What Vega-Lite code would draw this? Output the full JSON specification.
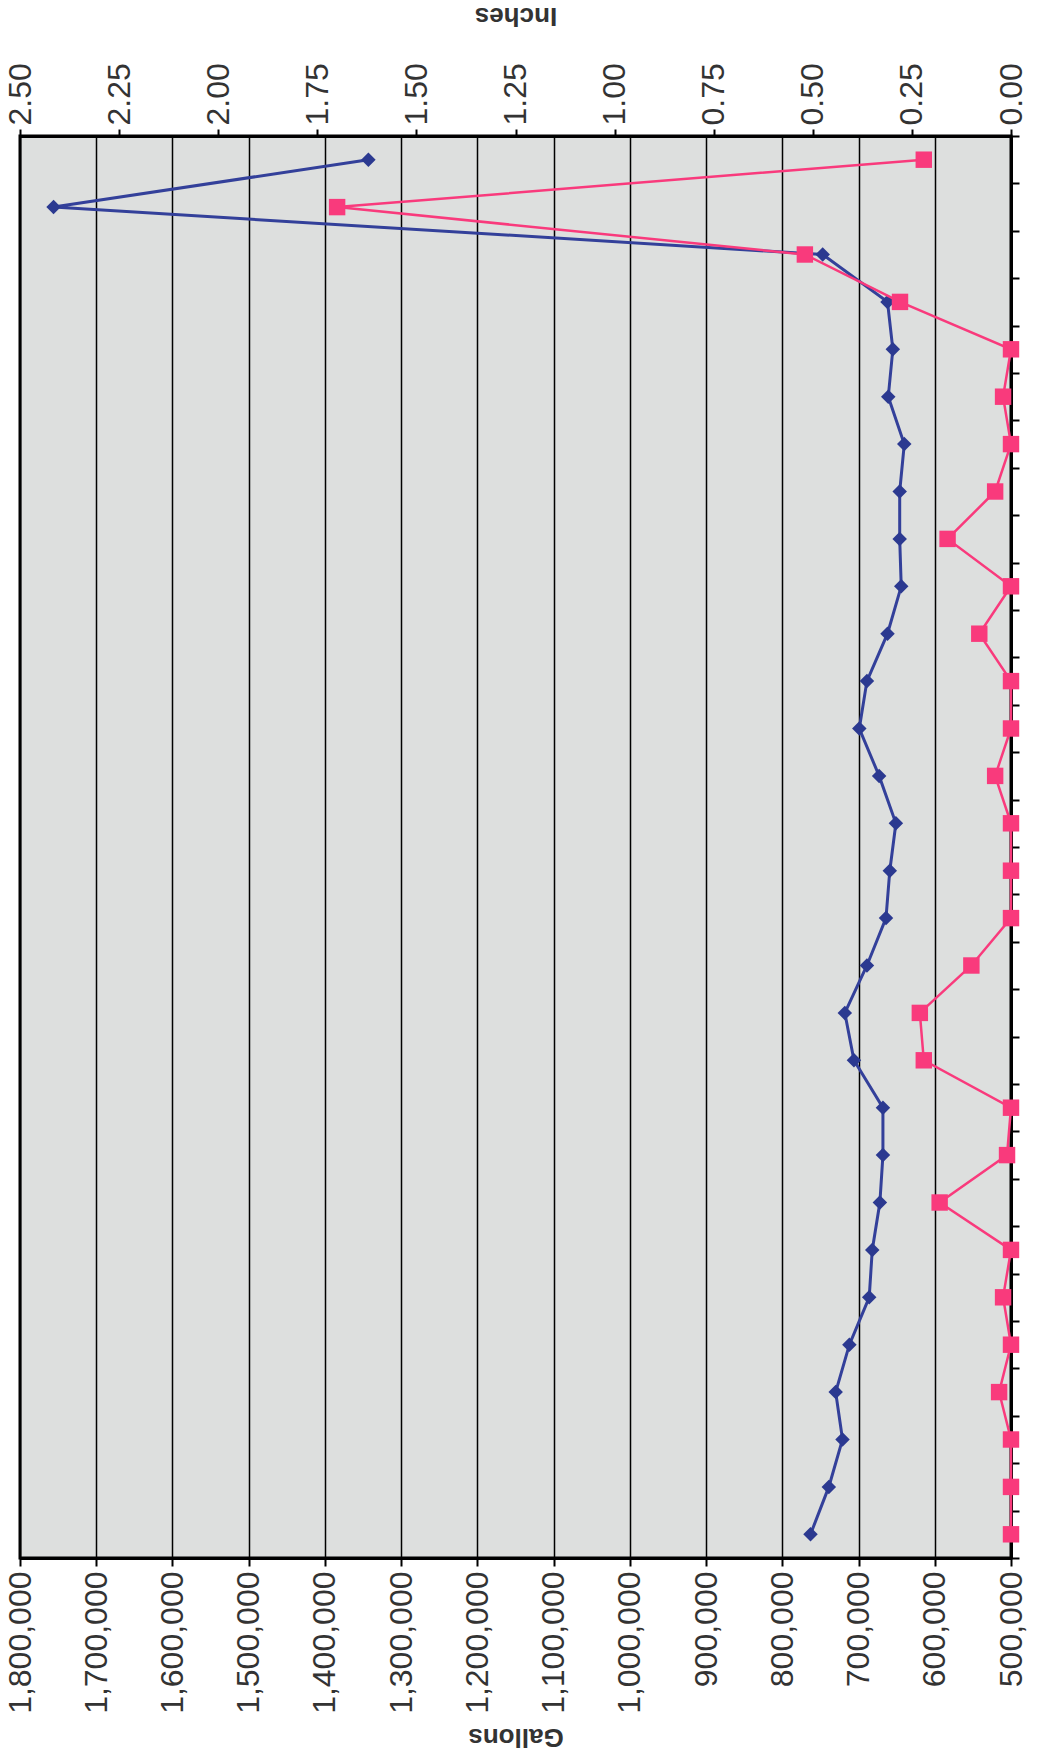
{
  "$schema": "https://vega.github.io/schema/vega-lite/v6.json",
  "width": 991,
  "height": 1422,
  "autosize": "none",
  "padding": {"left": 20, "top": 136, "right": 26, "bottom": 196},
  "background": "white",
  "config": {
    "font": "Liberation Sans",
    "view": {"fill": "#dddfde", "stroke": "black", "strokeWidth": 3}
  },
  "data": {
    "values": [
      {"n": 1, "gallons": 763000, "inches": 0},
      {"n": 2, "gallons": 739000, "inches": 0},
      {"n": 3, "gallons": 721000, "inches": 0},
      {"n": 4, "gallons": 730000, "inches": 0.03},
      {"n": 5, "gallons": 712000, "inches": 0},
      {"n": 6, "gallons": 686000, "inches": 0.02},
      {"n": 7, "gallons": 682000, "inches": 0},
      {"n": 8, "gallons": 672000, "inches": 0.18},
      {"n": 9, "gallons": 668000, "inches": 0.01},
      {"n": 10, "gallons": 668000, "inches": 0},
      {"n": 11, "gallons": 706000, "inches": 0.22},
      {"n": 12, "gallons": 718000, "inches": 0.23},
      {"n": 13, "gallons": 689000, "inches": 0.10},
      {"n": 14, "gallons": 664000, "inches": 0},
      {"n": 15, "gallons": 659000, "inches": 0},
      {"n": 16, "gallons": 651000, "inches": 0},
      {"n": 17, "gallons": 673000, "inches": 0.04},
      {"n": 18, "gallons": 699000, "inches": 0},
      {"n": 19, "gallons": 689000, "inches": 0},
      {"n": 20, "gallons": 662000, "inches": 0.08},
      {"n": 21, "gallons": 644000, "inches": 0},
      {"n": 22, "gallons": 646000, "inches": 0.16},
      {"n": 23, "gallons": 646000, "inches": 0.04},
      {"n": 24, "gallons": 640000, "inches": 0},
      {"n": 25, "gallons": 661000, "inches": 0.02},
      {"n": 26, "gallons": 655000, "inches": 0},
      {"n": 27, "gallons": 662000, "inches": 0.28},
      {"n": 28, "gallons": 747000, "inches": 0.52},
      {"n": 29, "gallons": 1756000, "inches": 1.70},
      {"n": 30, "gallons": 1343000, "inches": 0.22}
    ]
  },
  "encoding": {
    "y": {
      "field": "n",
      "type": "quantitative",
      "scale": {"domain": [0.5, 30.5], "nice": false, "zero": false},
      "axis": {
        "orient": "right",
        "values": [0.5, 1.5, 2.5, 3.5, 4.5, 5.5, 6.5, 7.5, 8.5, 9.5, 10.5, 11.5, 12.5, 13.5, 14.5, 15.5, 16.5, 17.5, 18.5, 19.5, 20.5, 21.5, 22.5, 23.5, 24.5, 25.5, 26.5, 27.5, 28.5, 29.5, 30.5],
        "labels": false,
        "title": null,
        "grid": false,
        "tickSize": 8,
        "tickColor": "black",
        "tickWidth": 2,
        "domainColor": "black",
        "domainWidth": 3
      }
    },
    "order": {"field": "n", "type": "quantitative"}
  },
  "layer": [
    {
      "mark": {
        "type": "line",
        "color": "#33409a",
        "strokeWidth": 3,
        "point": {"shape": "diamond", "size": 210, "filled": true, "color": "#2b3990", "opacity": 1}
      },
      "encoding": {
        "x": {
          "field": "gallons",
          "type": "quantitative",
          "scale": {"domain": [500000, 1800000], "reverse": true, "nice": false, "zero": false},
          "axis": {
            "orient": "bottom",
            "values": [500000, 600000, 700000, 800000, 900000, 1000000, 1100000, 1200000, 1300000, 1400000, 1500000, 1600000, 1700000, 1800000],
            "format": ",d",
            "labelAngle": 270,
            "labelAlign": "right",
            "labelBaseline": "middle",
            "labelFontSize": 32,
            "labelColor": "#333333",
            "labelPadding": 5,
            "labelFlush": false,
            "labelOverlap": false,
            "tickSize": 8,
            "tickColor": "black",
            "tickWidth": 2,
            "domainColor": "black",
            "domainWidth": 3,
            "grid": true,
            "gridColor": "black",
            "gridWidth": 1.5,
            "gridOpacity": 1,
            "title": "Gallons",
            "titleAngle": 180,
            "titleFontSize": 26,
            "titleFontWeight": "bold",
            "titleColor": "#333333",
            "titleAlign": "center",
            "titleBaseline": "middle",
            "titleX": 495.5,
            "titleY": 178
          }
        }
      }
    },
    {
      "mark": {
        "type": "line",
        "color": "#f93a7c",
        "strokeWidth": 2.5,
        "point": {"shape": "square", "size": 270, "filled": true, "color": "#f93a7c", "opacity": 1}
      },
      "encoding": {
        "x": {
          "field": "inches",
          "type": "quantitative",
          "scale": {"domain": [0, 2.5], "reverse": true, "nice": false, "zero": false},
          "axis": {
            "orient": "top",
            "values": [0, 0.25, 0.5, 0.75, 1, 1.25, 1.5, 1.75, 2, 2.25, 2.5],
            "format": ".2f",
            "labelAngle": 270,
            "labelAlign": "left",
            "labelBaseline": "middle",
            "labelFontSize": 32,
            "labelColor": "#333333",
            "labelPadding": 4,
            "labelFlush": false,
            "labelOverlap": false,
            "tickSize": 7,
            "tickColor": "black",
            "tickWidth": 2,
            "domainColor": "black",
            "domainWidth": 3,
            "grid": false,
            "title": "Inches",
            "titleAngle": 180,
            "titleFontSize": 26,
            "titleFontWeight": "bold",
            "titleColor": "#333333",
            "titleAlign": "center",
            "titleBaseline": "middle",
            "titleX": 495.5,
            "titleY": -121
          }
        }
      }
    }
  ],
  "resolve": {"scale": {"x": "independent"}}
}
